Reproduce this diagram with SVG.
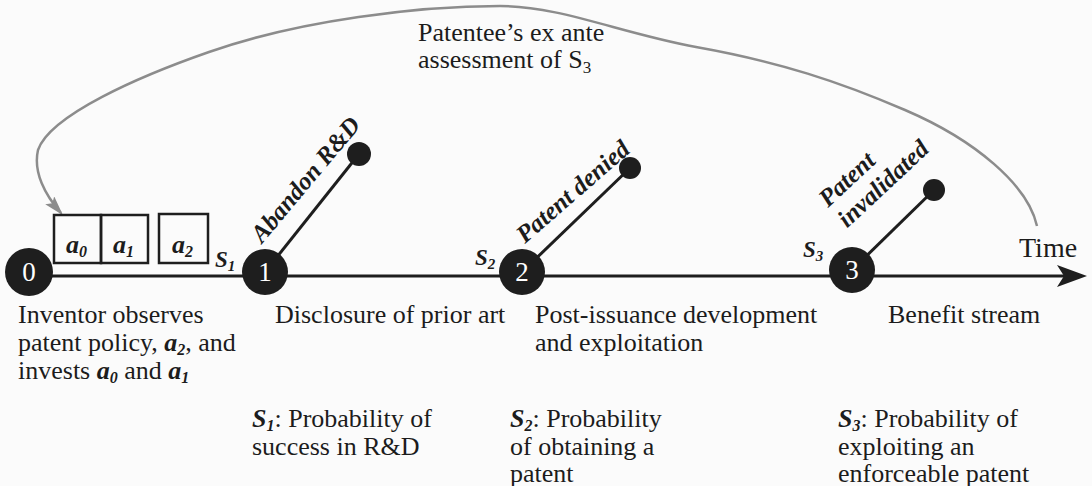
<svg xmlns="http://www.w3.org/2000/svg" width="1092" height="486" viewBox="0 0 1092 486" font-family="'Liberation Serif', 'Times New Roman', 'DejaVu Serif', serif">
<style>
text { font-family: 'Liberation Serif', 'Times New Roman', 'DejaVu Serif', serif; fill: #1c1c1c; }
.t { font-size: 26px; }
.bi { font-weight: bold; font-style: italic; }
.lbl { font-size: 25px; font-weight: bold; font-style: italic; }
.num { font-size: 27px; fill: #ffffff; text-anchor: middle; }
.axis { stroke: #1e1e1e; stroke-width: 3; fill: none; }
.branch { stroke: #1e1e1e; stroke-width: 3; }
.node { fill: #1e1e1e; }
.dot { fill: #1e1e1e; }
.box { fill: none; stroke: #1e1e1e; stroke-width: 2.5; }
.fb { stroke: #8c8c8c; stroke-width: 2.5; fill: none; }
</style>
<defs>
<marker id="garrow" markerUnits="userSpaceOnUse" viewBox="0 0 20 12" refX="17" refY="6" markerWidth="20" markerHeight="12" orient="auto">
<path d="M0,0 L20,6 L0,12 L4,6 z" fill="#8c8c8c"/>
</marker>
</defs>
<rect x="0" y="0" width="1092" height="486" fill="#fbfbfb"/>

<g id="connectors">
<line class="axis" x1="28" y1="276" x2="1068" y2="276"/>
<path d="M1087,276 L1057,265 L1064,276 L1057,287 z" fill="#1e1e1e"/>
<line class="branch" x1="265" y1="272" x2="359" y2="154"/>
<line class="branch" x1="522" y1="272" x2="630" y2="168"/>
<line class="branch" x1="851" y1="271" x2="934" y2="190"/>
<path class="fb" marker-end="url(#garrow)" d="M1037,226 C1028,185 975,140 905,110 C840,82 780,62 696,47 C620,33 560,6 500,6 C420,6 300,20 209,52 C140,76 50,115 38,150 C33,172 45,195 61,213"/>
</g>

<g id="feedback-label">
<text class="t" x="418" y="41">Patentee’s ex ante</text>
<text class="t" x="418" y="68">assessment of S<tspan font-size="17" dy="5">3</tspan></text>
</g>

<g id="time-label">
<text x="1019" y="257" font-size="28">Time</text>
</g>

<g id="actions">
<rect class="box" x="54" y="215" width="47" height="48"/>
<rect class="box" x="101" y="215" width="47" height="48"/>
<rect class="box" x="159" y="214" width="49" height="49"/>
<text class="bi" font-size="26" x="66" y="253">a<tspan font-size="16" dy="4">0</tspan></text>
<text class="bi" font-size="26" x="113" y="253">a<tspan font-size="16" dy="4">1</tspan></text>
<text class="bi" font-size="26" x="172" y="253">a<tspan font-size="16" dy="4">2</tspan></text>
</g>

<g id="node-0">
<circle class="node" cx="29" cy="272" r="24"/>
<text class="num" x="29" y="281">0</text>
<text class="t" x="18" y="323">Inventor observes</text>
<text class="t" x="18" y="351">patent policy, <tspan class="bi">a</tspan><tspan class="bi" font-size="16" dy="4">2</tspan><tspan dy="-4">, and</tspan></text>
<text class="t" x="18" y="379">invests <tspan class="bi">a</tspan><tspan class="bi" font-size="16" dy="4">0</tspan><tspan dy="-4"> and </tspan><tspan class="bi">a</tspan><tspan class="bi" font-size="16" dy="4">1</tspan></text>
</g>

<g id="node-1">
<circle class="node" cx="265" cy="272" r="23"/>
<text class="num" x="265" y="281">1</text>
<text class="bi" font-size="23" x="215" y="267">S<tspan font-size="15" dy="4">1</tspan></text>
<text class="t" x="275" y="323">Disclosure of prior art</text>
<text class="t" x="252" y="427"><tspan class="bi">S</tspan><tspan class="bi" font-size="16" dy="4">1</tspan><tspan dy="-4">: Probability of</tspan></text>
<text class="t" x="252" y="455">success in R&amp;D</text>
</g>

<g id="end-1">
<circle class="dot" cx="359" cy="154" r="12"/>
<text class="lbl" transform="translate(262,244) rotate(-50)">Abandon R&amp;D</text>
</g>

<g id="node-2">
<circle class="node" cx="522" cy="272" r="23"/>
<text class="num" x="522" y="281">2</text>
<text class="bi" font-size="23" x="475" y="265">S<tspan font-size="15" dy="4">2</tspan></text>
<text class="t" x="535" y="323">Post-issuance development</text>
<text class="t" x="535" y="351">and exploitation</text>
<text class="t" x="510" y="427"><tspan class="bi">S</tspan><tspan class="bi" font-size="16" dy="4">2</tspan><tspan dy="-4">: Probability</tspan></text>
<text class="t" x="510" y="455">of obtaining a</text>
<text class="t" x="510" y="482">patent</text>
</g>

<g id="end-2">
<circle class="dot" cx="630" cy="168" r="11"/>
<text class="lbl" transform="translate(525,244) rotate(-41)">Patent denied</text>
</g>

<g id="node-3">
<circle class="node" cx="852" cy="270" r="23"/>
<text class="num" x="852" y="279">3</text>
<text class="bi" font-size="23" x="803" y="257">S<tspan font-size="15" dy="4">3</tspan></text>
<text class="t" x="888" y="323">Benefit stream</text>
<text class="t" x="838" y="427"><tspan class="bi">S</tspan><tspan class="bi" font-size="16" dy="4">3</tspan><tspan dy="-4">: Probability of</tspan></text>
<text class="t" x="838" y="455">exploiting an</text>
<text class="t" x="838" y="482">enforceable patent</text>
</g>

<g id="end-3">
<circle class="dot" cx="934" cy="190" r="11"/>
<text class="lbl" transform="translate(828,208) rotate(-43)"><tspan x="0" y="0">Patent</tspan><tspan x="0" y="28">invalidated</tspan></text>
</g>
</svg>
